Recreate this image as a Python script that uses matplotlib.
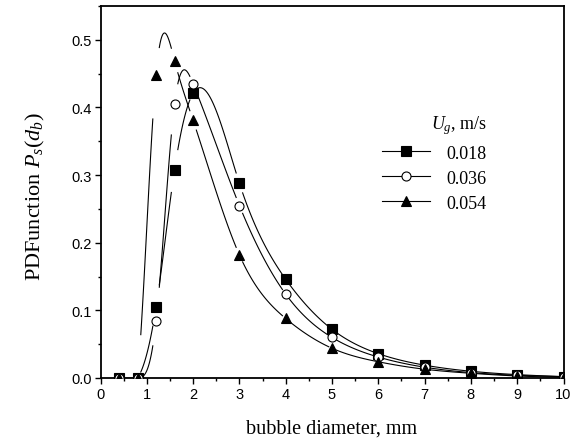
import numpy as np
import matplotlib
matplotlib.use("Agg")
import matplotlib.pyplot as plt
from matplotlib.lines import Line2D
from matplotlib.ticker import MultipleLocator, FormatStrFormatter

plt.rcParams["mathtext.fontset"] = "custom"
plt.rcParams["mathtext.rm"] = "Liberation Serif"
plt.rcParams["mathtext.it"] = "Liberation Serif:italic"

# bubble diameter classes, mm
diameter = [0.4, 0.8, 1.2, 1.6, 2.0, 3.0, 4.0, 5.0, 6.0, 7.0, 8.0, 9.0, 10.0]

# size distribution for each superficial gas velocity
pdf_018 = [0.0, 0.0, 0.105, 0.308, 0.421, 0.288, 0.146, 0.072, 0.036, 0.019, 0.010, 0.005, 0.002]
pdf_036 = [0.0, 0.0, 0.084, 0.405, 0.435, 0.255, 0.124, 0.060, 0.031, 0.016, 0.008, 0.004, 0.002]
pdf_054 = [0.0, 0.0, 0.448, 0.469, 0.381, 0.182, 0.088, 0.044, 0.024, 0.013, 0.007, 0.003, 0.001]

labels = ["0.018", "0.036", "0.054"]
series = [pdf_018, pdf_036, pdf_054]
markers = ["s", "o", "^"]
faces = ["black", "white", "black"]


def natural_spline(x, y, n_per_seg=60, gap=0.07):
    """Natural cubic spline through the points, returned segment by segment
    with a small gap left on either side of every point."""
    x = np.asarray(x, float)
    y = np.asarray(y, float)
    n = len(x)
    h = np.diff(x)
    A = np.zeros((n, n))
    r = np.zeros(n)
    A[0, 0] = A[-1, -1] = 1.0
    for i in range(1, n - 1):
        A[i, i - 1] = h[i - 1]
        A[i, i] = 2 * (h[i - 1] + h[i])
        A[i, i + 1] = h[i]
        r[i] = 6 * ((y[i + 1] - y[i]) / h[i] - (y[i] - y[i - 1]) / h[i - 1])
    M = np.linalg.solve(A, r)
    segs = []
    for i in range(n - 1):
        t = np.linspace(x[i] + gap, x[i + 1] - gap, n_per_seg)
        hi = h[i]
        s = (M[i] * (x[i + 1] - t) ** 3 / (6 * hi)
             + M[i + 1] * (t - x[i]) ** 3 / (6 * hi)
             + (y[i] / hi - M[i] * hi / 6) * (x[i + 1] - t)
             + (y[i + 1] / hi - M[i + 1] * hi / 6) * (t - x[i]))
        segs.append((t, s))
    return segs


fig = plt.figure(figsize=(5.74, 4.39), dpi=100)
ax = fig.add_axes([100.5 / 574, 60 / 439, 463 / 574, 372 / 439])

for vals, mk, fc in zip(series, markers, faces):
    for t, s in natural_spline(diameter, vals):
        ax.plot(t, s, color="black", lw=0.8)
    ax.plot(diameter, vals, linestyle="none", marker=mk, ms=6.5,
            mfc=fc, mec="black", mew=0.8, zorder=3)

ax.set_xlim(0, 10)
ax.set_ylim(0, 0.55)
ax.xaxis.set_major_locator(MultipleLocator(1))
ax.xaxis.set_minor_locator(MultipleLocator(0.5))
ax.yaxis.set_major_locator(MultipleLocator(0.1))
ax.yaxis.set_minor_locator(MultipleLocator(0.05))
ax.yaxis.set_major_formatter(FormatStrFormatter("%.1f"))
ax.tick_params(which="both", direction="out", top=False, right=False, width=1.0)
ax.tick_params(which="major", length=4.5, labelsize=10.5, pad=2)
ax.tick_params(which="minor", length=2.5)
for lab in ax.get_xticklabels() + ax.get_yticklabels():
    lab.set_fontfamily("Liberation Sans")
for sp in ax.spines.values():
    sp.set_linewidth(1.3)

ax.set_xlabel("bubble diameter, mm", fontfamily="Liberation Serif", fontsize=14.5)
ax.set_ylabel(r"PDFunction $P_s(d_b)$", fontfamily="Liberation Serif", fontsize=16)
ax.xaxis.set_label_coords(0.5, -0.108)
ax.yaxis.set_label_coords(-0.115, 0.49)

handles = [Line2D([], [], color="black", lw=0.8, marker=mk, ms=6.5, mfc=fc,
                  mec="black", mew=0.8) for mk, fc in zip(markers, faces)]
leg = ax.legend(handles, labels, title=r"$U_g$, m/s", loc="upper left",
                bbox_to_anchor=(0.58, 0.745), frameon=False,
                prop={"family": "Liberation Serif", "size": 13},
                title_fontproperties={"family": "Liberation Serif", "size": 13},
                handlelength=2.7, handletextpad=0.9, labelspacing=0.45,
                borderpad=0.2, alignment="right")

fig.savefig("out.png", dpi=100)
